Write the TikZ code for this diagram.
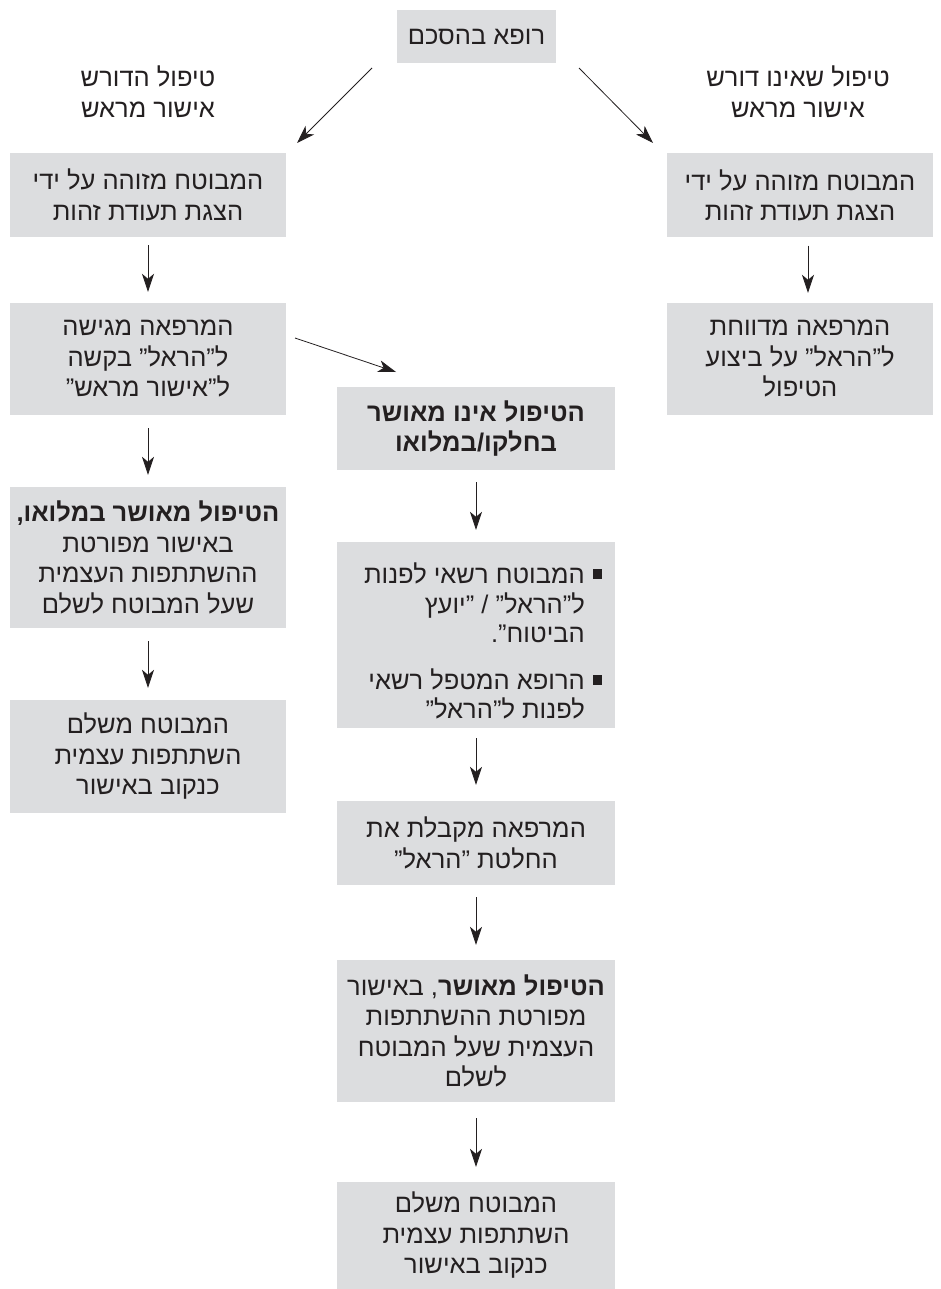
\documentclass[tikz,border=0pt]{standalone}
\usepackage{fontspec}
\setmainfont{Liberation Sans}
\newfontfamily\heb[Script=Hebrew]{Liberation Sans}
\TeXXeTstate=1
\usetikzlibrary{arrows.meta}
\newcommand\RL[1]{\beginR #1\endR}
\definecolor{boxgray}{HTML}{DCDDDF}
\definecolor{ink}{HTML}{231F20}
\tikzset{
  box/.style={fill=boxgray, inner sep=0pt, align=center, text=ink,
    font=\heb\fontsize{25.5}{30.5}\selectfont},
  hdr/.style={inner sep=0pt, align=center, text=ink,
    font=\heb\fontsize{25.5}{31}\selectfont},
  itemtxt/.style={inner sep=0pt, align=right, text=ink,
    font=\heb\fontsize{25.5}{29.5}\selectfont},
  bulletsq/.style={fill=ink, inner sep=0pt, minimum width=9pt, minimum height=10pt},
  arr/.style={draw=ink, line width=0.8pt, -{Stealth[length=18pt,width=12pt,inset=5pt]}},
  lbox/.style={box, minimum width=276pt},
  rbox/.style={box, minimum width=266pt},
  mbox/.style={box, minimum width=278pt}
}
\begin{document}
\begin{tikzpicture}[x=1pt,y=-1pt]
\useasboundingbox (0,0) rectangle (941,1289);
% top
\node[box, minimum width=159pt, minimum height=53pt] (top) at (476.5,36.5) {\RL{רופא בהסכם}};
% headers
\node[hdr] (hl) at (148,92) {\RL{טיפול הדורש}\\\RL{אישור מראש}};
\node[hdr] (hr) at (798,92) {\RL{טיפול שאינו דורש}\\\RL{אישור מראש}};
% left column
\node[lbox, minimum height=84pt] (L1) at (148,195) {\RL{המבוטח מזוהה על ידי}\\\RL{הצגת תעודת זהות}};
\node[lbox, minimum height=112pt] (L2) at (148,359) {\RL{המרפאה מגישה}\\\RL{ל”הראל” בקשה}\\\RL{ל”אישור מראש”}};
\node[lbox, minimum height=141pt] (L3) at (148,557.5) {\RL{\textbf{הטיפול מאושר במלואו,}}\\\RL{באישור מפורטת}\\\RL{ההשתתפות העצמית}\\\RL{שעל המבוטח לשלם}};
\node[lbox, minimum height=113pt] (L4) at (148,756.5) {\RL{המבוטח משלם}\\\RL{השתתפות עצמית}\\\RL{כנקוב באישור}};
% right column
\node[rbox, minimum height=84pt] (R1) at (800,195.5) {\RL{המבוטח מזוהה על ידי}\\\RL{הצגת תעודת זהות}};
\node[rbox, minimum height=112pt] (R2) at (800,359) {\RL{המרפאה מדווחת}\\\RL{ל”הראל” על ביצוע}\\\RL{הטיפול}};
% middle column
\node[mbox, minimum height=83pt] (M1) at (476,428.5) {\RL{\textbf{הטיפול אינו מאושר}}\\\RL{\textbf{בחלקו/במלואו}}};
\node[mbox, minimum height=186pt] (M2) at (476,635) {};
\node[itemtxt, anchor=east] (M2a) at (585,603) {\RL{המבוטח רשאי לפנות}\\\RL{ל”הראל” / ”יועץ}\\\RL{הביטוח”.}};
\node[itemtxt, anchor=east] (M2b) at (585,694) {\RL{הרופא המטפל רשאי}\\\RL{לפנות ל”הראל”}};
\node[bulletsq] (b1) at (597,574) {};
\node[bulletsq] (b2) at (597,680) {};
\node[mbox, minimum height=84pt] (M3) at (476,843) {\RL{המרפאה מקבלת את}\\\RL{החלטת ”הראל”}};
\node[mbox, minimum height=142pt] (M4) at (476,1031) {\RL{\textbf{הטיפול מאושר}, באישור}\\\RL{מפורטת ההשתתפות}\\\RL{העצמית שעל המבוטח}\\\RL{לשלם}};
\node[mbox, minimum height=107pt] (M5) at (476,1235.5) {\RL{המבוטח משלם}\\\RL{השתתפות עצמית}\\\RL{כנקוב באישור}};
% free arrow ends
\coordinate (tA) at (372,68);
\coordinate (tB) at (297,143);
\coordinate (tC) at (579,68);
\coordinate (tD) at (653,143);
\coordinate (dA) at (295,338);
\coordinate (dB) at (396,372);
% connectors
\draw[arr] (tA) -- (tB);
\draw[arr] (tC) -- (tD);
\draw[arr] (dA) -- (dB);
\draw[arr, shorten <=8pt, shorten >=11pt] (L1) -- (L2);
\draw[arr, shorten <=13pt, shorten >=12pt] (L2) -- (L3);
\draw[arr, shorten <=13pt, shorten >=12pt] (L3) -- (L4);
\draw[arr, shorten <=8pt, shorten >=10pt] ([xshift=8pt]R1.south) -- ([xshift=8pt]R2.north);
\draw[arr, shorten <=12pt, shorten >=12pt] (M1) -- (M2);
\draw[arr, shorten <=10pt, shorten >=16pt] (M2) -- (M3);
\draw[arr, shorten <=12pt, shorten >=15pt] (M3) -- (M4);
\draw[arr, shorten <=16pt, shorten >=15pt] (M4) -- (M5);
\end{tikzpicture}
\end{document}
